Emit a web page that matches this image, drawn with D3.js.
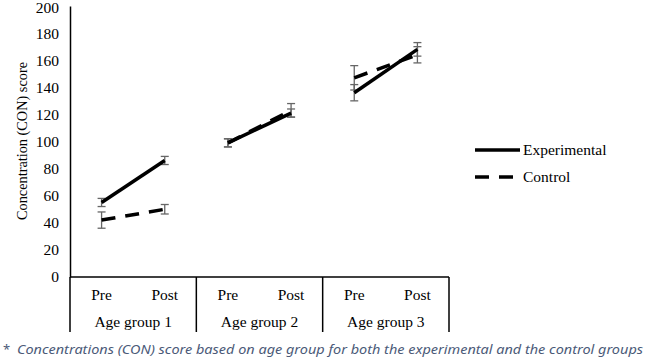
<!DOCTYPE html>
<html><head><meta charset="utf-8">
<script src="https://cdn.jsdelivr.net/npm/d3@7"></script>
<style>body{margin:0;background:#fff}svg{display:block}</style>
</head><body>
<svg id="c" width="646" height="363"></svg>
<script>
const groups = ["Age group 1", "Age group 2", "Age group 3"];
const phases = ["Pre", "Post"];
const experimental = [55, 86, 99, 121, 136, 168];
const experimentalErr = [3, 3, 3, 3, 6, 5];
const control = [42, 50, 99, 123, 147, 164];
const controlErr = [6, 3.5, 3, 5, 9, 6];
const yTicks = [0, 20, 40, 60, 80, 100, 120, 140, 160, 180, 200];
const seriesNames = ["Experimental", "Control"];
const yTitle = "Concentration (CON) score";
const caption = "Concentrations (CON) score based on age group for both the experimental and the control groups";

(function () {
const svg = d3.select("#c");
const pLeft = 70, pRight = 449, pTop = 6, pBottom = 277;
const serif = "Liberation Serif";
const fs = 15.5;

const keys = [];
groups.forEach(g => phases.forEach(p => keys.push(g + "|" + p)));
const x = d3.scaleBand().domain(keys).range([pLeft, pRight]);
const xg = d3.scaleBand().domain(groups).range([pLeft, pRight]);
const y = d3.scaleLinear().domain([0, 200]).range([pBottom, pTop]);

const ya = svg.append("g").attr("transform", `translate(${pLeft},0)`)
  .call(d3.axisLeft(y).tickValues(yTicks).tickSize(0).tickPadding(11));
ya.attr("font-family", serif).attr("font-size", fs);
ya.select(".domain").attr("stroke", "#000").attr("stroke-width", 1.5);
ya.selectAll("text").attr("fill", "#000").attr("dy", d => d === 200 ? "0.4em" : "0.32em");

svg.append("line").attr("x1", pLeft).attr("x2", pRight).attr("y1", pBottom).attr("y2", pBottom)
  .attr("stroke", "#000").attr("stroke-width", 1.5);
const seps = [pLeft].concat(groups.map(g => xg(g) + xg.bandwidth()));
svg.selectAll(".sep").data(seps).enter().append("line")
  .attr("x1", d => d).attr("x2", d => d).attr("y1", pBottom).attr("y2", 332)
  .attr("stroke", "#000").attr("stroke-width", 1.5);
svg.selectAll(".ph").data(keys).enter().append("text")
  .attr("x", d => x(d) + x.bandwidth() / 2).attr("y", 300)
  .attr("text-anchor", "middle").attr("font-family", serif).attr("font-size", fs)
  .text(d => d.split("|")[1]);
svg.selectAll(".gl").data(groups).enter().append("text")
  .attr("x", d => xg(d) + xg.bandwidth() / 2).attr("y", 327)
  .attr("text-anchor", "middle").attr("font-family", serif).attr("font-size", fs)
  .text(d => d);

svg.append("text").attr("transform", "translate(27,141) rotate(-90)")
  .attr("text-anchor", "middle").attr("font-family", serif).attr("font-size", 14.3)
  .text(yTitle);

const cx = i => x(keys[i]) + x.bandwidth() / 2;

function drawSeries(vals, errs, dash) {
  const g = svg.append("g");
  vals.forEach((v, i) => {
    const e = errs[i], xx = cx(i);
    g.append("line").attr("x1", xx).attr("x2", xx).attr("y1", y(v + e)).attr("y2", y(v - e))
      .attr("stroke", "#666").attr("stroke-width", 1.3);
    [v + e, v - e].forEach(t => g.append("line").attr("x1", xx - 4).attr("x2", xx + 4)
      .attr("y1", y(t)).attr("y2", y(t)).attr("stroke", "#666").attr("stroke-width", 1.3));
  });
  groups.forEach((gr, gi) => {
    const i0 = gi * 2, i1 = gi * 2 + 1;
    g.append("path")
      .attr("d", d3.line()([[cx(i0), y(vals[i0])], [cx(i1), y(vals[i1])]]))
      .attr("stroke", "#000").attr("stroke-width", 3.5).attr("fill", "none")
      .attr("stroke-dasharray", dash);
  });
}
drawSeries(control, controlErr, "14,10");
drawSeries(experimental, experimentalErr, null);

const lg = svg.append("g");
seriesNames.forEach((n, i) => {
  const ly = 150 + i * 27;
  lg.append("line").attr("x1", 475).attr("x2", 520).attr("y1", ly).attr("y2", ly)
    .attr("stroke", "#000").attr("stroke-width", 3.5)
    .attr("stroke-dasharray", i === 1 ? "14,10" : null);
  lg.append("text").attr("x", 523).attr("y", ly + 5).attr("font-family", serif)
    .attr("font-size", fs).text(n);
});

svg.append("text").attr("x", 3).attr("y", 354).attr("font-family", "Noto Sans")
  .attr("font-size", 13).attr("fill", "#4b5a78").text("*");
svg.append("text").attr("x", 17).attr("y", 354).attr("font-family", "Noto Sans")
  .attr("font-size", 13).attr("font-style", "italic").attr("fill", "#4b5a78")
  .attr("textLength", 626).attr("lengthAdjust", "spacingAndGlyphs")
  .text(caption);
})();
</script>
</body></html>
